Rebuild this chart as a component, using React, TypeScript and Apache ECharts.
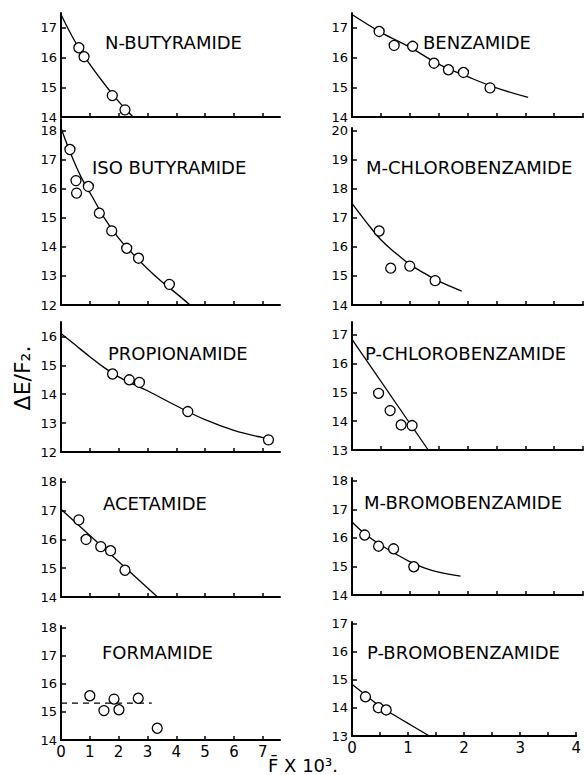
import React, { useEffect, useRef } from "react";
import * as echarts from "echarts";

// ---- data (x = F x 10^3, y = ΔE/F2) ----
const panelNames = [
  "N-BUTYRAMIDE",
  "BENZAMIDE",
  "ISO BUTYRAMIDE",
  "M-CHLOROBENZAMIDE",
  "PROPIONAMIDE",
  "P-CHLOROBENZAMIDE",
  "ACETAMIDE",
  "M-BROMOBENZAMIDE",
  "FORMAMIDE",
  "P-BROMOBENZAMIDE",
];

const nButyramidePts = [[0.62, 16.33], [0.8, 16.03], [1.78, 14.72], [2.22, 14.24]];
const nButyramideCurve = [[0, 17.45], [0.7, 16.2], [1.8, 14.75], [2.5, 14.0]];

const benzamidePts = [[0.47, 16.88], [0.73, 16.41], [1.05, 16.38], [1.42, 15.81], [1.67, 15.59], [1.93, 15.5], [2.39, 14.98]];
const benzamideCurve = [[0, 17.45], [0.5, 16.85], [1, 16.35], [1.5, 15.78], [2, 15.36], [2.5, 14.98], [3.05, 14.66]];

const isobutyramidePts = [[0.31, 17.35], [0.52, 16.28], [0.54, 15.85], [0.95, 16.08], [1.33, 15.16], [1.76, 14.55], [2.28, 13.95], [2.69, 13.61], [3.76, 12.71]];
const isobutyramideCurve = [[0, 18.1], [0.3, 17.3], [0.7, 16.4], [1.1, 15.7], [1.5, 15.0], [2, 14.3], [2.5, 13.75], [3, 13.25], [3.5, 12.8], [4, 12.4], [4.48, 12.0]];

const mChloroPts = [[0.47, 16.55], [0.67, 15.27], [1.0, 15.34], [1.44, 14.84]];
const mChloroCurve = [[0, 17.5], [0.25, 16.85], [0.5, 16.25], [0.75, 15.8], [1, 15.4], [1.25, 15.1], [1.5, 14.82], [1.9, 14.48]];

const propionamidePts = [[1.79, 14.7], [2.37, 14.5], [2.72, 14.41], [4.4, 13.4], [7.2, 12.42]];
const propionamideCurve = [[0, 16.1], [0.5, 15.7], [1, 15.3], [1.5, 14.92], [2, 14.6], [2.5, 14.35], [3, 14.12], [4, 13.6], [5, 13.12], [6, 12.75], [7, 12.5], [7.35, 12.45]];

const pChloroPts = [[0.46, 14.97], [0.66, 14.37], [0.85, 13.87], [1.04, 13.85]];
const pChloroCurve = [[0, 16.85], [1.32, 13.0]];

const acetamidePts = [[0.62, 16.68], [0.87, 16.0], [1.38, 15.75], [1.72, 15.61], [2.22, 14.93]];
const acetamideCurve = [[0, 17.05], [3.35, 14.0]];

const mBromoPts = [[0.22, 16.1], [0.46, 15.71], [0.72, 15.62], [1.07, 14.99]];
const mBromoCurve = [[0, 16.56], [0.25, 16.1], [0.5, 15.75], [0.75, 15.45], [1, 15.17], [1.25, 14.95], [1.5, 14.8], [1.88, 14.66]];

const formamidePts = [[1.0, 15.58], [1.49, 15.05], [1.84, 15.46], [2.01, 15.08], [2.68, 15.49], [3.34, 14.42]];
const formamideCurve = [[0, 15.32], [3.15, 15.32]];

const pBromoPts = [[0.24, 14.4], [0.47, 14.01], [0.61, 13.93]];
const pBromoCurve = [[0, 14.85], [0.25, 14.45], [0.5, 14.05], [0.75, 13.75], [1, 13.45], [1.38, 13.0]];

const leftXTickLabels = [0, 1, 2, 3, 4, 5, 6, 7];
const rightXTickLabels = [0, 1, 2, 3, 4];
const yMins = [14, 14, 12, 14, 12, 13, 14, 14, 14, 13];
const yMaxs = [17.5, 17.5, 18.4, 20.1, 16.5, 17.45, 18.1, 18.1, 18.07, 17.07];

const allPts = [nButyramidePts, benzamidePts, isobutyramidePts, mChloroPts, propionamidePts, pChloroPts, acetamidePts, mBromoPts, formamidePts, pBromoPts];
const allCurves = [nButyramideCurve, benzamideCurve, isobutyramideCurve, mChloroCurve, propionamideCurve, pChloroCurve, acetamideCurve, mBromoCurve, formamideCurve, pBromoCurve];

// ---- layout ----
const gridTops = [13, 13, 119, 128, 322, 322, 479, 478, 626, 622];
const gridHeights = [104, 104, 186, 177, 130, 128, 118, 117, 114, 114];
const titlePos = [
  [105, 42], [423, 42], [92, 167], [366, 167], [108, 353],
  [365, 353], [103, 503], [364, 502], [102, 652], [367, 652],
];

export default function App() {
  const ref = useRef<HTMLDivElement>(null);
  useEffect(() => {
    if (!ref.current) return;
    const chart = echarts.init(ref.current, undefined, { renderer: "svg" });
    const grids: any[] = [];
    const xAxes: any[] = [];
    const yAxes: any[] = [];
    const series: any[] = [];
    const graphics: any[] = [];
    const font = "DejaVu Sans";
    for (let i = 0; i < 10; i++) {
      const isLeft = i % 2 === 0;
      const isBottom = i >= 8;
      grids.push({
        left: isLeft ? 61 : 352,
        width: isLeft ? 219 : 231,
        top: gridTops[i],
        height: gridHeights[i],
      });
      const xTicks = isLeft ? [1, 2, 3, 4, 5, 6, 7] : [0.5, 1, 1.5, 2, 2.5, 3, 3.5, 4];
      xAxes.push({
        type: "value",
        gridIndex: i,
        min: 0,
        max: isLeft ? 7.6 : 4.0,
        axisLine: { show: true, onZero: false, lineStyle: { color: "#000", width: 2 } },
        axisTick: { show: true, inside: true, length: 4, customValues: xTicks, lineStyle: { color: "#000", width: 1.5 } },
        axisLabel: {
          show: isBottom,
          customValues: isLeft ? leftXTickLabels : rightXTickLabels,
          color: "#000",
          fontSize: 15,
          fontFamily: font,
          margin: 4,
        },
        splitLine: { show: false },
      });
      const yTicks: number[] = [];
      for (let v = yMins[i]; v <= yMaxs[i] + 1e-9; v++) yTicks.push(v);
      yAxes.push({
        type: "value",
        gridIndex: i,
        min: yMins[i],
        max: yMaxs[i],
        axisLine: { show: true, onZero: false, lineStyle: { color: "#000", width: 2 } },
        axisTick: { show: true, inside: true, length: 5, customValues: yTicks, lineStyle: { color: "#000", width: 1.5 } },
        axisLabel: { customValues: yTicks, color: "#000", fontSize: 13, fontFamily: font, margin: 4 },
        splitLine: { show: false },
      });
      series.push({
        type: "line",
        xAxisIndex: i,
        yAxisIndex: i,
        data: allCurves[i],
        smooth: allCurves[i].length > 2 ? 0.4 : false,
        showSymbol: false,
        symbol: "none",
        lineStyle: { color: "#000", width: 1.3, type: i === 8 ? [6, 5] : "solid" },
        z: 2,
      });
      series.push({
        type: "scatter",
        xAxisIndex: i,
        yAxisIndex: i,
        data: allPts[i],
        symbol: "circle",
        symbolSize: 10,
        itemStyle: { color: "#fff", borderColor: "#000", borderWidth: 1.3, opacity: 1 },
        z: 3,
      });
      graphics.push({
        type: "text",
        x: titlePos[i][0],
        y: titlePos[i][1],
        style: { text: panelNames[i], fill: "#000", font: `18px "${font}"`, verticalAlign: "middle", align: "left" },
      });
    }
    graphics.push({
      type: "text",
      x: 22,
      y: 378,
      rotation: Math.PI / 2,
      style: { text: "ΔE/F₂.", fill: "#000", font: `22px "${font}"`, align: "center", verticalAlign: "middle" },
    });
    graphics.push({
      type: "text",
      x: 268,
      y: 765,
      style: { text: "F̄ X 10³.", fill: "#000", font: `18px "${font}"`, align: "left", verticalAlign: "middle" },
    });
    chart.setOption({
      animation: false,
      backgroundColor: "#fff",
      grid: grids,
      xAxis: xAxes,
      yAxis: yAxes,
      series,
      graphic: graphics,
    });
    return () => chart.dispose();
  }, []);
  return (
    <div
      ref={ref}
      style={{ position: "fixed", left: 0, top: 0, width: 584, height: 775, background: "#fff" }}
    />
  );
}
